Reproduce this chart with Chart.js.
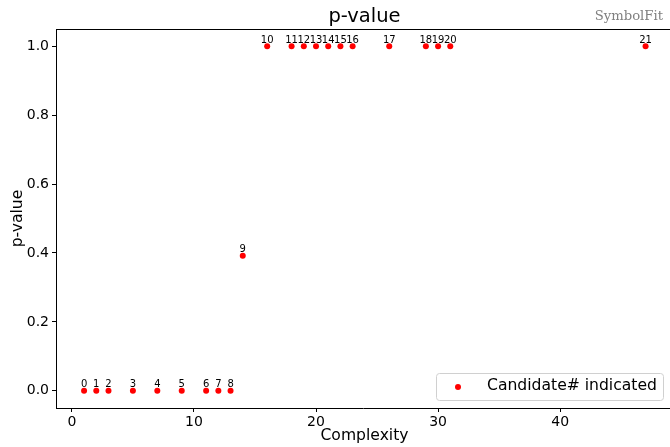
<!DOCTYPE html>
<html>
<head>
<meta charset="utf-8">
<script src="https://cdn.jsdelivr.net/npm/chart.js@4.4.0/dist/chart.umd.min.js"></script>
<style>
    body { margin: 0; background: #fff; overflow: hidden; }
    canvas { display: block; }
</style>
</head>
<body>
<canvas id="pvalueChart" width="670" height="447"></canvas>
<script>
const complexity = [1, 2, 3, 5, 7, 9, 11, 12, 13, 14, 16, 18, 19, 20, 21, 22, 23, 26, 29, 30, 31, 47];
const pValues = [0, 0, 0, 0, 0, 0, 0, 0, 0, 0.392, 1, 1, 1, 1, 1, 1, 1, 1, 1, 1, 1, 1];
const candidateIds = [0, 1, 2, 3, 4, 5, 6, 7, 8, 9, 10, 11, 12, 13, 14, 15, 16, 17, 18, 19, 20, 21];
const xTicks = [0, 10, 20, 30, 40];
const yTicks = [0, 0.2, 0.4, 0.6, 0.8, 1.0];

const points = complexity.map((c, i) => ({ x: c, y: pValues[i] }));
const FONT = 'DejaVu Sans';

// frame, titles, legend and candidate numbers
const decor = {
    id: 'decor',
    afterDatasetsDraw(chart) {
        const ctx = chart.ctx;
        const area = chart.chartArea;
        const meta = chart.getDatasetMeta(0);

        ctx.save();
        ctx.fillStyle = '#000';
        ctx.font = `10px ${FONT}`;
        ctx.textAlign = 'center';
        ctx.textBaseline = 'alphabetic';
        meta.data.forEach((pt, i) => {
            ctx.fillText(String(candidateIds[i]), pt.x, pt.y - 3.5);
        });

        // top spine
        ctx.strokeStyle = '#000';
        ctx.lineWidth = 1;
        ctx.beginPath();
        ctx.moveTo(area.left, area.top + 0.5);
        ctx.lineTo(area.right, area.top + 0.5);
        ctx.stroke();

        const midX = 364.5;
        ctx.font = `19.5px ${FONT}`;
        ctx.textBaseline = 'middle';
        ctx.fillText('p-value', midX, 17);

        ctx.font = `13.2px "DejaVu Serif"`;
        ctx.fillStyle = '#808080';
        ctx.textAlign = 'right';
        ctx.fillText('SymbolFit', 663, 17);

        ctx.fillStyle = '#000';
        ctx.textAlign = 'center';
        ctx.font = `15.6px ${FONT}`;
        ctx.fillText('Complexity', midX, 436);

        ctx.save();
        ctx.translate(18, (area.top + area.bottom) / 2);
        ctx.rotate(-Math.PI / 2);
        ctx.fillText('p-value', 0, 0);
        ctx.restore();

        // legend box
        ctx.fillStyle = 'rgba(255,255,255,0.8)';
        ctx.strokeStyle = '#d0d0d0';
        ctx.beginPath();
        ctx.roundRect(436.5, 373.5, 227, 27, 3);
        ctx.fill();
        ctx.stroke();
        ctx.fillStyle = '#ff0000';
        ctx.beginPath();
        ctx.arc(458, 387, 3, 0, Math.PI * 2);
        ctx.fill();
        ctx.fillStyle = '#000';
        ctx.textAlign = 'left';
        ctx.font = `15.6px ${FONT}`;
        ctx.fillText('Candidate# indicated', 487, 386);
        ctx.restore();
    }
};

const ctx = document.getElementById('pvalueChart').getContext('2d');
// eslint-disable-next-line no-undef
new Chart(ctx, {
    type: 'scatter',
    data: {
        datasets: [{
            label: 'Candidate# indicated',
            data: points,
            backgroundColor: '#ff0000',
            borderColor: '#ff0000',
            pointRadius: 3,
            borderWidth: 0
        }]
    },
    options: {
        responsive: false,
        animation: false,
        layout: { autoPadding: false, padding: { top: 29, right: 0, left: 0, bottom: 0 } },
        plugins: {
            legend: { display: false },
            tooltip: { enabled: false }
        },
        scales: {
            x: {
                type: 'linear',
                min: -1.3,
                max: 49.0,
                afterBuildTicks: (scale) => { scale.ticks = xTicks.map(v => ({ value: v })); },
                afterFit: (scale) => { scale.height = 39; },
                grid: { drawOnChartArea: false, drawTicks: true, tickLength: 4, color: '#000' },
                border: { display: true, color: '#000', width: 1 },
                ticks: { color: '#000', font: { family: FONT, size: 14 }, padding: 2, maxRotation: 0 }
            },
            y: {
                type: 'linear',
                min: -0.05,
                max: 1.05,
                afterBuildTicks: (scale) => { scale.ticks = yTicks.map(v => ({ value: v })); },
                afterFit: (scale) => { scale.width = 56; },
                grid: { drawOnChartArea: false, drawTicks: true, tickLength: 4, color: '#000' },
                border: { display: true, color: '#000', width: 1 },
                ticks: {
                    color: '#000',
                    font: { family: FONT, size: 14 },
                    padding: 3,
                    callback: (v) => Number(v).toFixed(1)
                }
            }
        }
    },
    plugins: [decor]
});
</script>
</body>
</html>
